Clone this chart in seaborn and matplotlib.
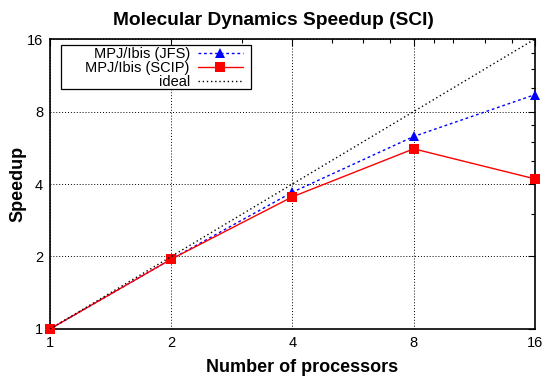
import numpy as np
import pandas as pd
import seaborn as sns
import matplotlib
matplotlib.use('Agg')
import matplotlib.pyplot as plt
from matplotlib.patches import Rectangle
from matplotlib.ticker import FixedLocator, FixedFormatter, NullFormatter

# values
procs = [1, 2, 4, 8, 16]
jfs = [1.0, 1.95, 3.7, 6.3, 9.4]
scip = [1.0, 1.95, 3.54, 5.6, 4.2]
ideal = [1, 2, 4, 8, 16]
tick_vals = [1, 2, 4, 8, 16]
tick_labels = ['1', '2', '4', '8', '16']
minor_vals = [3, 5, 6, 7, 9, 10, 12, 14]

sns.set_style('white')
plt.rcParams['font.family'] = ['Liberation Sans', 'DejaVu Sans']
plt.rcParams['text.color'] = 'black'
plt.rcParams['axes.labelcolor'] = 'black'

fig = plt.figure(figsize=(5.47, 3.81), dpi=100)
ax = fig.add_axes([0.0914, 0.1365, 0.8866, 0.7611])

# one call per series so marker kinds can differ
sns.lineplot(x=procs, y=jfs, color='#0000ff', linestyle=(0, (2, 2)), marker='^',
             markersize=6.5, markeredgewidth=0, linewidth=1, label='MPJ/Ibis (JFS)',
             ax=ax, clip_on=False, zorder=3)
sns.lineplot(x=procs, y=scip, color='#ff0000', linestyle='-', marker='s',
             markersize=6.5, markeredgewidth=0, linewidth=1, label='MPJ/Ibis (SCIP)',
             ax=ax, clip_on=False, zorder=3)
sns.lineplot(x=procs, y=ideal, color='black', linestyle=(0, (1, 2)),
             linewidth=1, label='ideal', ax=ax, zorder=3)

ax.set_xscale('log', base=2)
ax.set_yscale('log', base=2)
ax.set_xlim(1, 16)
ax.set_ylim(1, 16)
for axis in (ax.xaxis, ax.yaxis):
    axis.set_major_locator(FixedLocator(tick_vals))
    axis.set_major_formatter(FixedFormatter(tick_labels))
    axis.set_minor_locator(FixedLocator(minor_vals))
    axis.set_minor_formatter(NullFormatter())

ax.tick_params(which='both', direction='in', top=True, right=True, colors='black',
               labelsize=10.5, width=0.8)
ax.tick_params(which='major', length=5, pad=5)
ax.tick_params(which='minor', length=3)
ax.grid(True, which='major', linestyle=(0, (1, 2)), color='black', linewidth=0.7)
for s in ax.spines.values():
    s.set_color('black')
    s.set_linewidth(1.2)

# title is centred on the figure, not the axes
ax.set_title('Molecular Dynamics Speedup (SCI)', fontsize=13.8, fontweight='bold',
             pad=10, x=0.461, color='black')
ax.set_xlabel('Number of processors', fontsize=13, fontweight='bold', labelpad=7)
ax.xaxis.set_label_coords(0.52, -0.105)
ax.set_ylabel('Speedup', fontsize=13, fontweight='bold', labelpad=0)

# gnuplot-style key: text right-aligned, sample on the right, wide box
leg = ax.legend(loc='upper right', bbox_to_anchor=(0.398, 0.972), markerfirst=False,
                frameon=False, fontsize=10.5, handlelength=3.1, handletextpad=0.55,
                labelspacing=0.0, borderpad=0, borderaxespad=0, labelcolor='black')
ax.add_patch(Rectangle((0.0227, 0.8276), 0.3917, 0.1514, transform=ax.transAxes,
                       facecolor='white', edgecolor='black', linewidth=0.9, zorder=4))
leg.set_zorder(5)

fig.savefig('out.png', dpi=100)
